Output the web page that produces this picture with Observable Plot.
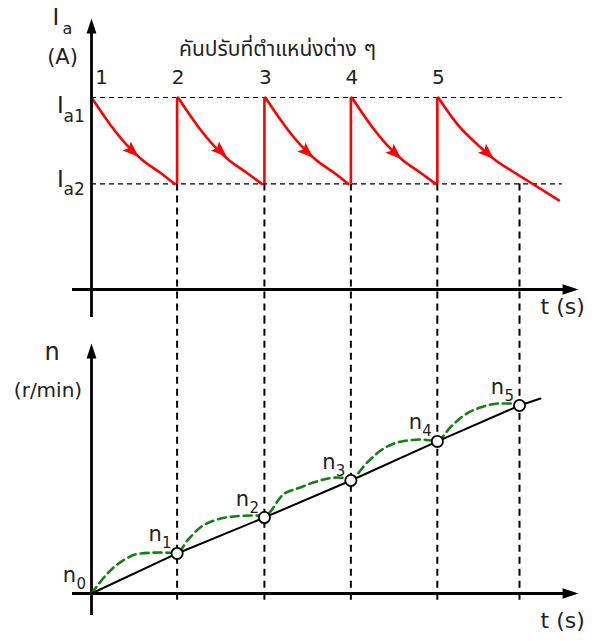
<!DOCTYPE html>
<html><head><meta charset="utf-8">
<script src="https://cdn.jsdelivr.net/npm/d3@7"></script>
<script src="https://cdn.jsdelivr.net/npm/@observablehq/plot@0.6"></script>
<style>
html,body{margin:0;padding:0;background:#fff;}
#chart{width:597px;height:641px;overflow:hidden;}
#chart svg{display:block;}
</style></head><body><div id="chart"></div>
<script>
// ---------------- data ----------------
const switchTimes = [0, 1.0, 2.02, 3.03, 4.04];          // lever positions 1..5
const positionLabels = ["1", "2", "3", "4", "5"];
const markTimes = [1.0, 2.02, 3.03, 4.04, 5.0];          // dashed verticals
const Ia1 = 1.0;
const Ia2 = 0.55;
const topTitle = "คันปรับที่ตำแหน่งต่าง ๆ";

const currentSegment = [0,0,0,0,0,0, 1,1,1,1,1,1, 2,2,2,2,2,2, 3,3,3,3,3,3, 4,4,4,4,4,4,4];
const currentTime = [0, 0.23, 0.43, 0.59, 0.80, 0.97,
                     1.01, 1.24, 1.44, 1.60, 1.81, 1.99,
                     2.03, 2.26, 2.46, 2.62, 2.83, 3.0,
                     3.04, 3.27, 3.47, 3.63, 3.84, 4.02,
                     4.05, 4.29, 4.54, 4.70, 4.93, 5.10, 5.46];
const currentValue = [1.0, 0.852, 0.744, 0.676, 0.609, 0.55,
                      1.0, 0.852, 0.744, 0.676, 0.609, 0.55,
                      1.0, 0.852, 0.744, 0.676, 0.609, 0.55,
                      1.0, 0.852, 0.744, 0.676, 0.609, 0.55,
                      1.0, 0.852, 0.742, 0.680, 0.612, 0.565, 0.464];
const arrowTime = [0.55, 1.58, 2.59, 3.62, 4.70];
const arrowCurrent = [0.692, 0.692, 0.686, 0.680, 0.680];

const speedTime = [0, 1.0, 2.02, 3.03, 4.04, 5.0];
const speedValue = [0, 0.213, 0.404, 0.601, 0.809, 1.0];
const speedLabels = ["0", "1", "2", "3", "4", "5"];
const speedLineEndTime = 5.245;
const speedLineEndValue = 1.037;

const transientTime = [0, 0.22, 0.37, 0.57, 0.81, 1.0,
                       1.12, 1.27, 1.43, 1.66, 1.89, 2.02,
                       2.24, 2.44, 2.59, 2.87, 3.03,
                       3.22, 3.38, 3.57, 3.84, 4.04,
                       4.19, 4.35, 4.54, 4.78, 4.95, 5.0];
const transientSpeed = [0, 0.122, 0.176, 0.213, 0.218, 0.215,
                        0.282, 0.351, 0.388, 0.410, 0.415, 0.413,
                        0.527, 0.564, 0.590, 0.617, 0.612,
                        0.697, 0.761, 0.803, 0.819, 0.812,
                        0.883, 0.947, 0.989, 1.011, 1.011, 1.0];

// ---------------- layout / style ----------------
const W = 597;
const FONT = "'DejaVu Sans', 'Noto Sans Thai', 'Noto Sans', sans-serif";
const INK = "#222";
const RED = "#ff0000";
const GREEN = "#128012";
const tAxisMin = -0.222, tAxisMax = 5.69;
const iAxisMin = -0.146, iAxisMax = 1.411;
const nAxisMin = -0.117, nAxisMax = 1.33;

const headNotched = {draw(c, size) {const s = Math.sqrt(size / Math.PI);
  c.moveTo(0, 0); c.lineTo(0.38 * s, s); c.lineTo(0, 0.8 * s); c.lineTo(-0.38 * s, s); c.closePath();}};
const headPlain = {draw(c, size) {const s = Math.sqrt(size / Math.PI);
  c.moveTo(0, 0); c.lineTo(0.33 * s, s); c.lineTo(-0.33 * s, s); c.closePath();}};

const txt = (s, x, y, o) => Plot.text([s], {x, y, text: d => d, fill: INK, fontFamily: FONT, lineAnchor: "bottom", ...o});

const currentData = currentTime.map((t, i) => ({t, I: currentValue[i], seg: currentSegment[i]}));
const arrowData = arrowTime.map((t, i) => ({t, I: arrowCurrent[i]}));
const speedData = speedTime.map((t, i) => ({t, n: speedValue[i], label: speedLabels[i]}));
const lineData = [...speedData, {t: speedLineEndTime, n: speedLineEndValue}];
const transientData = transientTime.map((t, i) => ({t, n: transientSpeed[i]}));
const posData = switchTimes.map((t, i) => ({t, label: positionLabels[i]}));

const topPanel = Plot.plot({
  width: W, height: 320,
  x: {domain: [0, 5], range: [91, 519], axis: null},
  y: {domain: [0, 1], range: [289, 97], axis: null},
  marks: [
    Plot.ruleY([Ia1, Ia2], {x1: 0, x2: 5.5, stroke: "#000", strokeWidth: 1.2, strokeDasharray: "5,4"}),
    Plot.ruleX(markTimes, {y1: Ia2, y2: -0.2, stroke: "#000", strokeWidth: 2, strokeDasharray: "7,5"}),
    Plot.line(currentData, {x: "t", y: "I", z: "seg", stroke: RED, strokeWidth: 2.6, curve: "monotone-x"}),
    Plot.ruleX(switchTimes.slice(1), {y1: Ia2, y2: Ia1, stroke: RED, strokeWidth: 2.6}),
    Plot.dot(arrowData, {x: "t", y: "I", symbol: headNotched, r: 16, rotate: 132, fill: RED, stroke: "none"}),
    Plot.ruleY([0], {x1: tAxisMin, x2: tAxisMax - 0.1, stroke: "#000", strokeWidth: 2.8}),
    Plot.ruleX([0], {y1: iAxisMin, y2: iAxisMax - 0.05, stroke: "#000", strokeWidth: 2.8}),
    Plot.dot([0], {x: tAxisMax, y: 0, symbol: headPlain, r: 16, rotate: 90, fill: "#000", stroke: "none"}),
    Plot.dot([0], {x: 0, y: iAxisMax, symbol: headPlain, r: 15, rotate: 0, fill: "#000", stroke: "none"}),
    txt("I", 0, iAxisMax, {dx: -35.5, dy: 6, fontSize: 23}),
    txt("a", 0, iAxisMax, {dx: -29, dy: 15, fontSize: 16, textAnchor: "start"}),
    txt("(A)", 0, iAxisMax, {dx: -29, dy: 45, fontSize: 21}),
    txt(topTitle, switchTimes[1], Ia1, {dx: 2, dy: -42, fontSize: 21, textAnchor: "start"}),
    Plot.text(posData.slice(0, 1), {x: "t", y: Ia1, text: "label", dx: 10, dy: -14, fontSize: 20, fill: INK, fontFamily: FONT, lineAnchor: "bottom"}),
    Plot.text(posData.slice(1), {x: "t", y: Ia1, text: "label", dx: 1, dy: -14, fontSize: 20, fill: INK, fontFamily: FONT, lineAnchor: "bottom"}),
    txt("I", 0, Ia1, {dx: -31, dy: 15, fontSize: 23}),
    txt("a1", 0, Ia1, {dx: -28, dy: 24, fontSize: 17, textAnchor: "start"}),
    txt("I", 0, Ia2, {dx: -31, dy: 3, fontSize: 23}),
    txt("a2", 0, Ia2, {dx: -28, dy: 11, fontSize: 17, textAnchor: "start"}),
    txt("t (s)", tAxisMax, 0, {dx: -38, dy: 24, fontSize: 22, textAnchor: "start"})
  ]
});

const bottomPanel = Plot.plot({
  width: W, height: 321,
  x: {domain: [0, 5], range: [91, 519], axis: null},
  y: {domain: [0, 1], range: [273, 85], axis: null},
  marks: [
    Plot.ruleX(markTimes, {y1: 1.47, y2: -0.053, stroke: "#000", strokeWidth: 2, strokeDasharray: "7,5"}),
    Plot.ruleY([0], {x1: tAxisMin, x2: tAxisMax - 0.1, stroke: "#000", strokeWidth: 2.8}),
    Plot.ruleX([0], {y1: nAxisMin, y2: nAxisMax - 0.05, stroke: "#000", strokeWidth: 2.8}),
    Plot.dot([0], {x: tAxisMax, y: 0, symbol: headPlain, r: 16, rotate: 90, fill: "#000", stroke: "none"}),
    Plot.dot([0], {x: 0, y: nAxisMax, symbol: headPlain, r: 15, rotate: 0, fill: "#000", stroke: "none"}),
    Plot.line(transientData, {x: "t", y: "n", stroke: GREEN, strokeWidth: 2.6, strokeDasharray: "8,5", curve: "monotone-x"}),
    Plot.line(lineData, {x: "t", y: "n", stroke: "#000", strokeWidth: 2}),
    Plot.dot(speedData.slice(1), {x: "t", y: "n", r: 5.6, fill: "#fff", stroke: "#000", strokeWidth: 1.8}),
    Plot.text(speedData, {x: "t", y: "n", text: () => "n", dx: -22, dy: -12, fontSize: 21, fill: INK, fontFamily: FONT, lineAnchor: "bottom"}),
    Plot.text(speedData, {x: "t", y: "n", text: "label", dx: -15, dy: -5, fontSize: 15, fill: INK, fontFamily: FONT, lineAnchor: "bottom", textAnchor: "start"}),
    txt("n", 0, nAxisMax, {dx: -39.5, dy: 17, fontSize: 24}),
    txt("(r/min)", 0, nAxisMax, {dx: -43.5, dy: 54, fontSize: 20}),
    txt("t (s)", tAxisMax, 0, {dx: -38, dy: 34, fontSize: 22, textAnchor: "start"})
  ]
});

document.getElementById("chart").append(topPanel, bottomPanel);
</script></body></html>
